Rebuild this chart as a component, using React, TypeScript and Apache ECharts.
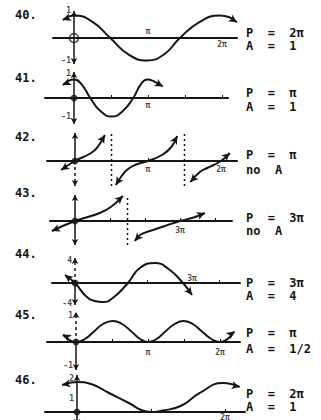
import React, { useEffect, useRef } from 'react';
import * as echarts from 'echarts';

// ---- text ----
const problemNumbers = ['40.', '41.', '42.', '43.', '44.', '45.', '46.'];
const periodTexts = ['P  =  2π', 'P  =  π', 'P  =  π', 'P  =  3π', 'P  =  3π', 'P  =  π', 'P  =  2π'];
const amplitudeTexts = ['A  =  1', 'A  =  1', 'no  A', 'no  A', 'A  =  4', 'A  =  1/2', 'A  =  1'];

// ---- curves: [x in multiples of π, y] ----
const curve40 = [[-0.15, 0.8], [0, 1], [0.25, 0.72], [0.49, 0], [0.74, -0.74], [0.99, -1], [1.22, -0.72], [1.43, 0], [1.7, 0.72], [1.97, 1], [2.1, 0.92], [2.2, 0.7]];
const curve41 = [[-0.15, 0.7], [0, 1], [0.1, 0.75], [0.22, 0], [0.36, -0.72], [0.51, -1], [0.66, -0.7], [0.8, 0], [0.9, 0.72], [0.99, 1], [1.08, 0.9], [1.2, 0.62]];
const curve42a = [[-0.19, -0.9], [0, 0], [0.22, 0.8], [0.31, 1.4], [0.41, 2.6]];
const curve42b = [[0.56, -2.4], [0.62, -1.7], [0.71, -0.9], [0.82, -0.4], [1.0, 0], [1.19, 0.6], [1.32, 1.4], [1.4, 2.5]];
const curve42c = [[1.58, -2.1], [1.71, -1.1], [1.81, -0.7], [2.0, 0], [2.12, 0.8]];
const curve43a = [[-0.66, -1.0], [0, 0], [0.71, 0.8], [1.06, 1.5], [1.37, 2.5]];
const curve43b = [[1.71, -2.0], [1.86, -1.4], [2.14, -1.0], [2.57, -0.5], [3.0, 0], [3.43, 0.4], [3.71, 0.8]];
const curve44 = [[-0.28, 1.6], [0, 0], [0.3, -2.6], [0.55, -3.6], [0.78, -3.8], [1.05, -3.0], [1.47, 0], [1.8, 3.0], [2.22, 4.0], [2.6, 2.8], [3.0, 0], [3.25, -2.4]];
const curve45 = [[-0.18, 0.3], [0, 0], [0.125, 0.12], [0.25, 0.42], [0.375, 0.72], [0.51, 0.84], [0.64, 0.72], [0.77, 0.42], [0.89, 0.12], [1, 0], [1.12, 0.12], [1.24, 0.42], [1.37, 0.72], [1.49, 0.84], [1.62, 0.72], [1.75, 0.42], [1.88, 0.12], [2, 0], [2.2, 0.42]];
const curve46 = [[-0.2, 1.8], [0, 2.0], [0.2, 1.85], [0.42, 1.3], [0.72, 0.55], [0.86, 0.15], [1.0, 0], [1.14, 0.08], [1.4, 0.4], [1.66, 1.27], [1.97, 1.93], [2.2, 1.67]];

// ---- asymptotes (x in multiples of π) ----
const asymptotes42 = [0.5, 1.5];
const asymptotes43 = [1.5];

// ---- tick labels ----
const xLabelsBelow = [[2], [1], [1, 2], [3], [], [1, 2], [2]];
const xLabelsAbove = [[1], [], [], [], [3], [], []];
const yLabels = [[1, -1], [1, -1], [], [], [4, -4], [1, -1], [2, 1]];
const xMinorTicks = [[], [0.5, 1, 1.5, 2], [1], [1, 2, 3, 4], [2, 4], [0.5, 1, 1.5, 2], [1, 2]];

const curvesByPanel = [[curve40], [curve41], [curve42a, curve42b, curve42c], [curve43a, curve43b], [curve44], [curve45], [curve46]];
const asymptotesByPanel = [[], [], asymptotes42, asymptotes43, [], [], []];

// ---- layout / style (pixels) ----
const layouts: any[] = [
  { top: 11, bottom: 64, axisY: 38, unit: 22.5, origin: 74, ppp: 74, left: 53, right: 237, hollow: true, yUp: 'solid', yDown: 'solid', belowDist: 2, aboveDist: 3, yLabDy: [-5, 0] },
  { top: 72, bottom: 124, axisY: 98, unit: 18.5, origin: 74, ppp: 74, left: 45, right: 228, yUp: 'solid', yDown: 'solid', belowDist: 3, yLabDy: [-6, 0] },
  { top: 133, bottom: 186, axisY: 161, unit: 10, origin: 75, ppp: 73, left: 47, right: 237, yUp: 'solid', yDown: 'dashed', belowDist: 4 },
  { top: 195, bottom: 245, axisY: 221, unit: 10, origin: 75, ppp: 35, left: 50, right: 232, yUp: 'solid', yDown: 'solid', belowDist: 5 },
  { top: 258, bottom: 305, axisY: 283, unit: 5, origin: 75, ppp: 36, left: 52, right: 240, yUp: 'dashed', yDown: 'solid', aboveDist: 1, aboveDx: 9, yLabDy: [-3, 0] },
  { top: 312, bottom: 370, axisY: 342, unit: 25, origin: 76, ppp: 72, left: 47, right: 240, yUp: 'dashed', yDown: 'solid', belowDist: 6, yLabDy: [-2, -2] },
  { top: 375, bottom: 425, axisY: 412, unit: 15, origin: 77, ppp: 74, left: 45, right: 245, yUp: 'solid', yDown: 'solid', belowDist: 1, yLabDy: [-4, 1] },
];
const textY = [[15, 33, 46], [78, 93, 107], [137, 155, 170], [193, 218, 231], [254, 283, 296], [315, 333, 349], [380, 394, 407]];

const INK = '#151515';
const MONO = '"DejaVu Sans Mono", "Liberation Mono", monospace';
const tickFont = { color: INK, fontSize: 8, fontWeight: 'bold', fontFamily: MONO };

const piText = (v: number) => (v === 1 ? 'π' : `${v}π`);

function rot(p: number[], q: number[], lay: any) {
  const dx = (p[0] - q[0]) * lay.ppp;
  const dy = (p[1] - q[1]) * lay.unit;
  return (Math.atan2(dy, dx) * 180) / Math.PI - 90;
}

function buildOption() {
  const grid: any[] = [];
  const xAxis: any[] = [];
  const yAxis: any[] = [];
  const series: any[] = [];
  const graphic: any[] = [];

  layouts.forEach((lay, i) => {
    const ymax = (lay.axisY - lay.top) / lay.unit;
    const ymin = -(lay.bottom - lay.axisY) / lay.unit;
    const xmin = (lay.left - lay.origin) / lay.ppp;
    const xmax = (lay.right - lay.origin) / lay.ppp;
    grid.push({
      left: lay.left, top: lay.top, width: lay.right - lay.left, height: lay.bottom - lay.top,
      containLabel: false, outerBoundsMode: 'none',
    });
    xAxis.push({
      type: 'value', gridIndex: i, min: xmin, max: xmax, position: 'bottom',
      axisLine: { show: true, onZero: true, lineStyle: { color: INK, width: 2 } },
      axisTick: { show: xMinorTicks[i].length > 0, customValues: xMinorTicks[i], length: 3, inside: true, lineStyle: { color: INK, width: 1 } },
      axisLabel: { show: false },
      splitLine: { show: false },
    });
    yAxis.push({
      type: 'value', gridIndex: i, min: ymin, max: ymax,
      axisLine: { show: false },
      axisTick: { show: false },
      axisLabel: { show: false },
      splitLine: { show: false },
    });

    // y axis drawn as two segments (solid or dashed), arrows at the ends
    const seg = (from: number, to: number, style: string, rotate: number) => ({
      type: 'line', xAxisIndex: i, yAxisIndex: i, silent: true, showSymbol: true, showAllSymbol: true,
      lineStyle: { color: INK, width: 1.5, type: style === 'dashed' ? [3, 3] : 'solid' },
      itemStyle: { color: INK },
      data: [
        { value: [0, from], symbol: 'none' },
        { value: [0, to], symbol: 'arrow', symbolSize: [5, 6], symbolRotate: rotate },
      ],
    });
    series.push(seg(0, ymax, lay.yUp, 0));
    series.push(seg(0, ymin, lay.yDown, 180));

    curvesByPanel[i].forEach((curve) => {
      const n = curve.length;
      series.push({
        type: 'line', xAxisIndex: i, yAxisIndex: i, smooth: 0.5,
        showSymbol: true, showAllSymbol: true, silent: true,
        lineStyle: { color: INK, width: 2 },
        itemStyle: { color: INK },
        data: curve.map((pt, k) => {
          if (k === 0) return { value: pt, symbol: 'arrow', symbolSize: [6, 8], symbolRotate: rot(pt, curve[1], lay) };
          if (k === n - 1) return { value: pt, symbol: 'arrow', symbolSize: [6, 8], symbolRotate: rot(pt, curve[n - 2], lay) };
          return { value: pt, symbol: 'none' };
        }),
      });
    });

    asymptotesByPanel[i].forEach((a) => {
      series.push({
        type: 'line', xAxisIndex: i, yAxisIndex: i, symbol: 'none', silent: true,
        lineStyle: { color: INK, width: 1.5, type: [2, 3] },
        data: [[a, ymin], [a, ymax]],
      });
    });

    // tick labels placed at their values through the scales
    const labelData: any[] = [];
    xLabelsBelow[i].forEach((v) => labelData.push({
      value: [v, 0],
      label: { show: true, position: 'bottom', distance: lay.belowDist ?? 3, formatter: piText(v), ...tickFont },
    }));
    xLabelsAbove[i].forEach((v) => labelData.push({
      value: [v, 0],
      label: { show: true, position: 'top', distance: lay.aboveDist ?? 3, offset: [lay.aboveDx ?? 0, 0], formatter: piText(v), ...tickFont },
    }));
    yLabels[i].forEach((v, k) => labelData.push({
      value: [0, v],
      label: { show: true, position: 'left', distance: 3, offset: [0, lay.yLabDy ? lay.yLabDy[k] : 0], formatter: String(v), ...tickFont },
    }));
    if (labelData.length) {
      series.push({
        type: 'scatter', xAxisIndex: i, yAxisIndex: i, silent: true, symbolSize: 0,
        itemStyle: { color: 'rgba(0,0,0,0)' }, data: labelData, z: 6,
      });
    }

    series.push({
      type: 'scatter', xAxisIndex: i, yAxisIndex: i, silent: true,
      symbol: 'circle', symbolSize: lay.hollow ? 9 : 7,
      itemStyle: lay.hollow ? { color: 'rgba(0,0,0,0)', borderColor: INK, borderWidth: 1.5 } : { color: INK },
      data: [[0, 0]], z: 5,
    });

    const [yn, yp, ya] = textY[i];
    const txt = (left: number, y: number, s: string) => ({
      type: 'text', left, top: y - 6,
      style: { text: s, fill: INK, font: `bold 12px ${MONO}`, lineHeight: 12 },
    });
    graphic.push(txt(15, yn, problemNumbers[i]), txt(246, yp, periodTexts[i]), txt(246, ya, amplitudeTexts[i]));
  });

  return { animation: false, backgroundColor: '#fff', grid, xAxis, yAxis, series, graphic };
}

export default function App() {
  const ref = useRef<HTMLDivElement>(null);
  useEffect(() => {
    document.body.style.margin = '0';
    if (!ref.current) return;
    const chart = echarts.init(ref.current, undefined, { renderer: 'svg' });
    chart.setOption(buildOption() as any);
    return () => chart.dispose();
  }, []);
  return <div ref={ref} style={{ position: 'fixed', left: 0, top: 0, width: 321, height: 420 }} />;
}
